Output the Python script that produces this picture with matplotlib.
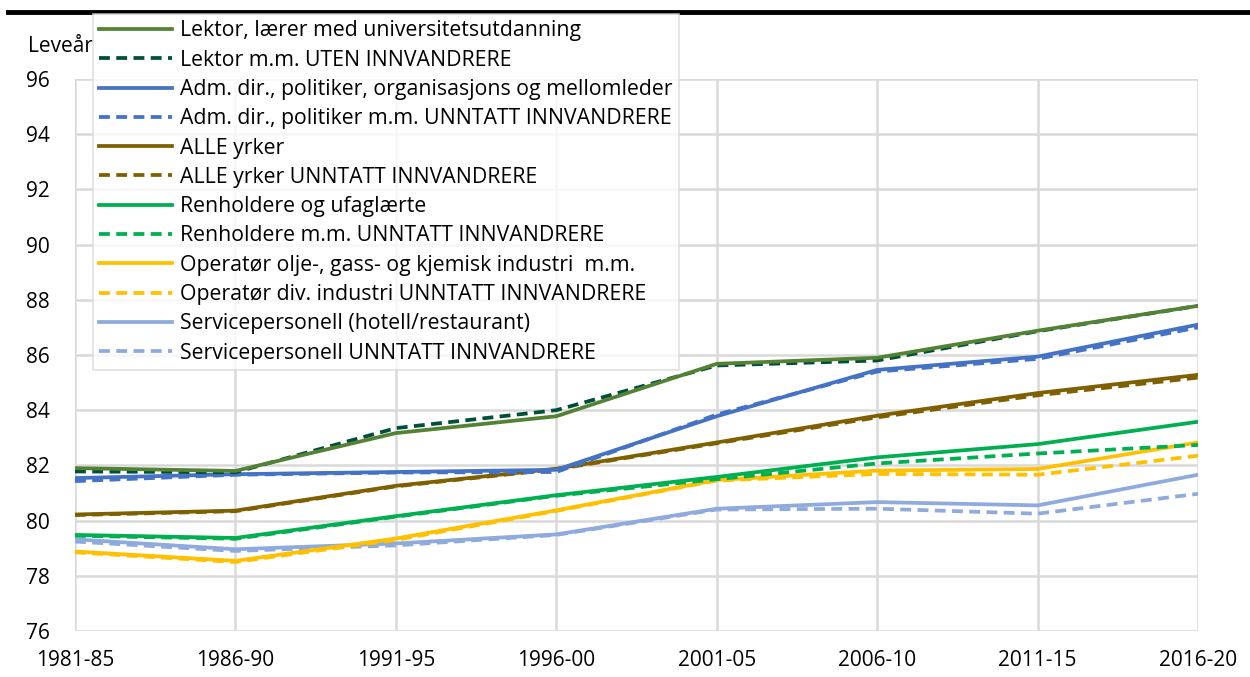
import matplotlib.pyplot as plt
from matplotlib.lines import Line2D

plt.rcParams['font.family'] = ['Open Sans', 'DejaVu Sans']

periods = ['1981-85', '1986-90', '1991-95', '1996-00', '2001-05', '2006-10', '2011-15', '2016-20']

lektor = [81.9, 81.8, 83.17, 83.78, 85.68, 85.9, 86.88, 87.78]
lektor_uten = [81.78, 81.75, 83.35, 84.0, 85.62, 85.8, 86.86, 87.78]
adm = [81.54, 81.68, 81.76, 81.84, 83.78, 85.46, 85.94, 87.1]
adm_uten = [81.43, 81.66, 81.74, 81.76, 83.84, 85.4, 85.86, 87.0]
alle = [80.22, 80.36, 81.26, 81.88, 82.83, 83.8, 84.62, 85.28]
alle_uten = [80.2, 80.34, 81.24, 81.86, 82.8, 83.74, 84.54, 85.18]
renhold = [79.48, 79.37, 80.16, 80.92, 81.58, 82.29, 82.77, 83.58]
renhold_uten = [79.45, 79.34, 80.14, 80.9, 81.5, 82.07, 82.43, 82.74]
operator = [78.88, 78.54, 79.35, 80.37, 81.47, 81.81, 81.87, 82.83]
operator_uten = [78.85, 78.5, 79.3, 80.35, 81.45, 81.69, 81.66, 82.35]
service = [79.32, 78.96, 79.17, 79.5, 80.43, 80.67, 80.55, 81.66]
service_uten = [79.24, 78.9, 79.1, 79.48, 80.4, 80.43, 80.25, 80.97]

labels = [
    'Lektor, lærer med universitetsutdanning',
    'Lektor m.m. UTEN INNVANDRERE',
    'Adm. dir., politiker, organisasjons og mellomleder',
    'Adm. dir., politiker m.m. UNNTATT INNVANDRERE',
    'ALLE yrker',
    'ALLE yrker UNNTATT INNVANDRERE',
    'Renholdere og ufaglærte',
    'Renholdere m.m. UNNTATT INNVANDRERE',
    'Operatør olje-, gass- og kjemisk industri  m.m.',
    'Operatør div. industri UNNTATT INNVANDRERE',
    'Servicepersonell (hotell/restaurant)',
    'Servicepersonell UNNTATT INNVANDRERE',
]
series = [lektor, lektor_uten, adm, adm_uten, alle, alle_uten,
          renhold, renhold_uten, operator, operator_uten, service, service_uten]
colors = ['#548235', '#004F3B', '#4472C4', '#4472C4', '#7F6000', '#7F6000',
          '#00B050', '#00B050', '#FFC000', '#FFC000', '#8FAADC', '#8FAADC']

DASH = (2.9, 1.7)

fig = plt.figure(figsize=(12.5, 6.77), dpi=100)
ax = fig.add_axes([0.06, 0.068, 0.8984, 0.8153])

x = list(range(len(periods)))
handles = []
# draw in reverse so the first series sit on top
for idx in reversed(range(len(series))):
    ln, = ax.plot(x, series[idx], color=colors[idx], lw=2.7, zorder=3)
    if idx % 2 == 1:
        ln.set_dashes(DASH)
for idx in range(len(series)):
    h = Line2D([], [], color=colors[idx], lw=2.7)
    if idx % 2 == 1:
        h.set_dashes(DASH)
    handles.append(h)

ax.set_xlim(0, len(periods) - 1)
ax.set_ylim(76, 96)
ax.set_yticks(range(76, 97, 2))
ax.set_xticks(x)
ax.set_xticklabels(periods)
ax.grid(True, color='#D9D9D9', lw=1.8)
ax.set_axisbelow(True)
for s in ax.spines.values():
    s.set_visible(False)
ax.tick_params(length=0, labelsize=15, colors='black')
ax.tick_params(axis='x', pad=14)
ax.tick_params(axis='y', pad=18)

fig.text(28 / 1250, 1 - 46 / 677, 'Leveår', fontsize=15, va='center', ha='left')

# black rule at the top
fig.add_artist(Line2D([8 / 1250, 1.0], [1 - 12 / 677, 1 - 12 / 677], color='black', lw=3.5))

leg = fig.legend(handles, labels, loc='upper left', bbox_to_anchor=(93 / 1250, 1 - 14 / 677),
                 fontsize=15.3, frameon=True, fancybox=False, handlelength=3.4,
                 labelspacing=0.39, borderpad=0.3, handletextpad=0.4, borderaxespad=0)
leg.get_frame().set_edgecolor('#D9D9D9')
leg.get_frame().set_linewidth(1.2)

fig.savefig('out.png', dpi=100)
